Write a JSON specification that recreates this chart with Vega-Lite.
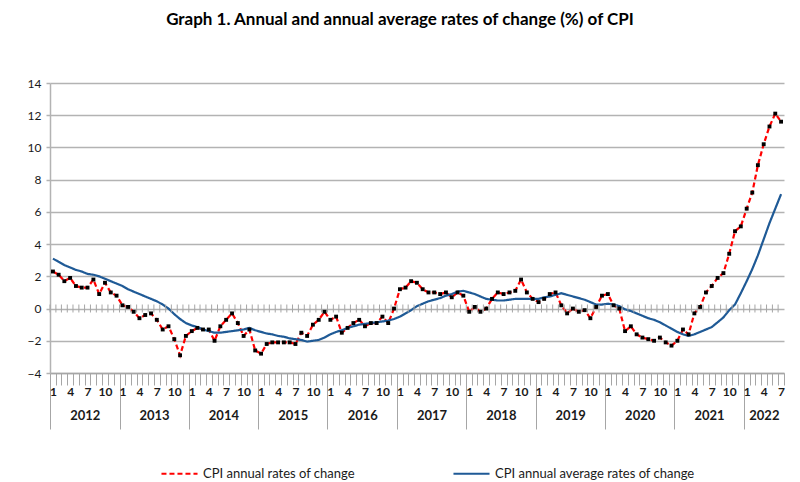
{
  "$schema": "https://vega.github.io/schema/vega-lite/v6.json",
  "width": 734,
  "height": 290,
  "autosize": {"type": "none"},
  "padding": {"left": 50, "top": 83, "right": 16, "bottom": 109},
  "background": "white",
  "config": {
    "font": "Lato",
    "view": {"stroke": null},
    "axis": {"labelFont": "Lato", "labelColor": "#1a1a1a"},
    "axisY": {
      "grid": true, "gridColor": "#b3b3b3", "gridWidth": 1.5,
      "domainColor": "#b3b3b3", "domainWidth": 1.5,
      "tickColor": "#b3b3b3", "tickSize": 4, "tickWidth": 1.5,
      "labelFontSize": 12, "labelPadding": 5
    }
  },
  "title": {
    "text": "Graph 1. Annual and annual average rates of change (%) of CPI",
    "font": "Lato",
    "fontSize": 17,
    "fontWeight": "bold",
    "color": "#000000",
    "offset": 48,
    "dx": -17
  },
  "datasets": {
    "cpi": [
      {"month": "2012-01", "annual": 2.3, "average": 3.1},
      {"month": "2012-02", "annual": 2.1, "average": 2.9},
      {"month": "2012-03", "annual": 1.7, "average": 2.7},
      {"month": "2012-04", "annual": 1.9, "average": 2.55},
      {"month": "2012-05", "annual": 1.4, "average": 2.4},
      {"month": "2012-06", "annual": 1.3, "average": 2.3},
      {"month": "2012-07", "annual": 1.3, "average": 2.15},
      {"month": "2012-08", "annual": 1.8, "average": 2.1},
      {"month": "2012-09", "annual": 0.9, "average": 2.0},
      {"month": "2012-10", "annual": 1.6, "average": 1.85},
      {"month": "2012-11", "annual": 1.0, "average": 1.7},
      {"month": "2012-12", "annual": 0.8, "average": 1.55},
      {"month": "2013-01", "annual": 0.2, "average": 1.4},
      {"month": "2013-02", "annual": 0.1, "average": 1.2},
      {"month": "2013-03", "annual": -0.2, "average": 1.05},
      {"month": "2013-04", "annual": -0.6, "average": 0.9},
      {"month": "2013-05", "annual": -0.4, "average": 0.75},
      {"month": "2013-06", "annual": -0.3, "average": 0.6},
      {"month": "2013-07", "annual": -0.7, "average": 0.45},
      {"month": "2013-08", "annual": -1.3, "average": 0.25},
      {"month": "2013-09", "annual": -1.1, "average": 0.0},
      {"month": "2013-10", "annual": -1.9, "average": -0.35},
      {"month": "2013-11", "annual": -2.9, "average": -0.65},
      {"month": "2013-12", "annual": -1.7, "average": -0.9},
      {"month": "2014-01", "annual": -1.4, "average": -1.05},
      {"month": "2014-02", "annual": -1.2, "average": -1.15},
      {"month": "2014-03", "annual": -1.3, "average": -1.3},
      {"month": "2014-04", "annual": -1.3, "average": -1.4},
      {"month": "2014-05", "annual": -2.0, "average": -1.5},
      {"month": "2014-06", "annual": -1.1, "average": -1.5},
      {"month": "2014-07", "annual": -0.7, "average": -1.45},
      {"month": "2014-08", "annual": -0.3, "average": -1.4},
      {"month": "2014-09", "annual": -0.9, "average": -1.35},
      {"month": "2014-10", "annual": -1.7, "average": -1.3},
      {"month": "2014-11", "annual": -1.3, "average": -1.2},
      {"month": "2014-12", "annual": -2.6, "average": -1.35},
      {"month": "2015-01", "annual": -2.8, "average": -1.45},
      {"month": "2015-02", "annual": -2.2, "average": -1.55},
      {"month": "2015-03", "annual": -2.1, "average": -1.6},
      {"month": "2015-04", "annual": -2.1, "average": -1.7},
      {"month": "2015-05", "annual": -2.1, "average": -1.75},
      {"month": "2015-06", "annual": -2.1, "average": -1.85},
      {"month": "2015-07", "annual": -2.2, "average": -1.9},
      {"month": "2015-08", "annual": -1.5, "average": -1.95},
      {"month": "2015-09", "annual": -1.7, "average": -2.05},
      {"month": "2015-10", "annual": -1.0, "average": -2.0},
      {"month": "2015-11", "annual": -0.7, "average": -1.95},
      {"month": "2015-12", "annual": -0.2, "average": -1.8},
      {"month": "2016-01", "annual": -0.7, "average": -1.6},
      {"month": "2016-02", "annual": -0.5, "average": -1.45},
      {"month": "2016-03", "annual": -1.5, "average": -1.35},
      {"month": "2016-04", "annual": -1.2, "average": -1.2},
      {"month": "2016-05", "annual": -0.9, "average": -1.1},
      {"month": "2016-06", "annual": -0.7, "average": -1.0},
      {"month": "2016-07", "annual": -1.1, "average": -0.95},
      {"month": "2016-08", "annual": -0.9, "average": -0.9},
      {"month": "2016-09", "annual": -0.9, "average": -0.85},
      {"month": "2016-10", "annual": -0.5, "average": -0.8},
      {"month": "2016-11", "annual": -0.9, "average": -0.75},
      {"month": "2016-12", "annual": 0.0, "average": -0.65},
      {"month": "2017-01", "annual": 1.2, "average": -0.5},
      {"month": "2017-02", "annual": 1.3, "average": -0.3},
      {"month": "2017-03", "annual": 1.7, "average": -0.1},
      {"month": "2017-04", "annual": 1.6, "average": 0.15},
      {"month": "2017-05", "annual": 1.2, "average": 0.3},
      {"month": "2017-06", "annual": 1.0, "average": 0.45},
      {"month": "2017-07", "annual": 1.0, "average": 0.55},
      {"month": "2017-08", "annual": 0.9, "average": 0.65},
      {"month": "2017-09", "annual": 1.0, "average": 0.8},
      {"month": "2017-10", "annual": 0.7, "average": 0.9},
      {"month": "2017-11", "annual": 1.0, "average": 1.05},
      {"month": "2017-12", "annual": 0.8, "average": 1.1},
      {"month": "2018-01", "annual": -0.2, "average": 1.0},
      {"month": "2018-02", "annual": 0.1, "average": 0.9},
      {"month": "2018-03", "annual": -0.2, "average": 0.75},
      {"month": "2018-04", "annual": 0.0, "average": 0.6},
      {"month": "2018-05", "annual": 0.6, "average": 0.55},
      {"month": "2018-06", "annual": 1.0, "average": 0.5},
      {"month": "2018-07", "annual": 0.9, "average": 0.5},
      {"month": "2018-08", "annual": 1.0, "average": 0.55},
      {"month": "2018-09", "annual": 1.1, "average": 0.6},
      {"month": "2018-10", "annual": 1.8, "average": 0.6},
      {"month": "2018-11", "annual": 1.0, "average": 0.6},
      {"month": "2018-12", "annual": 0.6, "average": 0.6},
      {"month": "2019-01", "annual": 0.4, "average": 0.6},
      {"month": "2019-02", "annual": 0.6, "average": 0.7},
      {"month": "2019-03", "annual": 0.9, "average": 0.75},
      {"month": "2019-04", "annual": 1.0, "average": 0.85},
      {"month": "2019-05", "annual": 0.2, "average": 0.95},
      {"month": "2019-06", "annual": -0.3, "average": 0.85},
      {"month": "2019-07", "annual": 0.0, "average": 0.75},
      {"month": "2019-08", "annual": -0.2, "average": 0.65},
      {"month": "2019-09", "annual": -0.1, "average": 0.55},
      {"month": "2019-10", "annual": -0.6, "average": 0.4},
      {"month": "2019-11", "annual": 0.1, "average": 0.25},
      {"month": "2019-12", "annual": 0.8, "average": 0.25},
      {"month": "2020-01", "annual": 0.9, "average": 0.3},
      {"month": "2020-02", "annual": 0.2, "average": 0.25},
      {"month": "2020-03", "annual": 0.0, "average": 0.15},
      {"month": "2020-04", "annual": -1.4, "average": -0.05},
      {"month": "2020-05", "annual": -1.1, "average": -0.15},
      {"month": "2020-06", "annual": -1.6, "average": -0.3},
      {"month": "2020-07", "annual": -1.8, "average": -0.45},
      {"month": "2020-08", "annual": -1.9, "average": -0.6},
      {"month": "2020-09", "annual": -2.0, "average": -0.7},
      {"month": "2020-10", "annual": -1.8, "average": -0.85},
      {"month": "2020-11", "annual": -2.1, "average": -1.05},
      {"month": "2020-12", "annual": -2.3, "average": -1.25},
      {"month": "2021-01", "annual": -2.0, "average": -1.45},
      {"month": "2021-02", "annual": -1.3, "average": -1.6},
      {"month": "2021-03", "annual": -1.6, "average": -1.7},
      {"month": "2021-04", "annual": -0.3, "average": -1.6},
      {"month": "2021-05", "annual": 0.1, "average": -1.45},
      {"month": "2021-06", "annual": 1.0, "average": -1.3},
      {"month": "2021-07", "annual": 1.4, "average": -1.15},
      {"month": "2021-08", "annual": 1.9, "average": -0.85},
      {"month": "2021-09", "annual": 2.2, "average": -0.55},
      {"month": "2021-10", "annual": 3.4, "average": -0.1},
      {"month": "2021-11", "annual": 4.8, "average": 0.25},
      {"month": "2021-12", "annual": 5.1, "average": 0.95},
      {"month": "2022-01", "annual": 6.2, "average": 1.7},
      {"month": "2022-02", "annual": 7.2, "average": 2.45},
      {"month": "2022-03", "annual": 8.9, "average": 3.3},
      {"month": "2022-04", "annual": 10.2, "average": 4.3},
      {"month": "2022-05", "annual": 11.3, "average": 5.3},
      {"month": "2022-06", "annual": 12.1, "average": 6.2},
      {"month": "2022-07", "annual": 11.6, "average": 7.1}
    ]
  },
  "data": {"name": "cpi"},
  "layer": [
    {
      "transform": [{"fold": ["annual", "average"], "as": ["series", "value"]}],
      "mark": {"type": "line", "strokeWidth": 2.2},
      "encoding": {
        "x": {
          "field": "month", "timeUnit": "utcyearmonth", "type": "temporal", "bandPosition": 0.5,
          "scale": {"type": "utc", "domain": [{"year": 2012, "month": 1, "date": 1, "utc": true}, {"year": 2022, "month": 8, "date": 1, "utc": true}]},
          "axis": {
            "orient": "bottom", "grid": false, "labels": false, "domain": false,
            "tickCount": {"interval": "year", "step": 1},
            "tickSize": 56, "tickColor": "#a6a6a6", "tickWidth": 1, "title": null
          }
        },
        "y": {
          "field": "value", "type": "quantitative",
          "scale": {"domain": [-4, 14]},
          "axis": {"tickCount": 9, "title": null}
        },
        "color": {
          "field": "series", "type": "nominal",
          "scale": {"domain": ["annual", "average"], "range": ["#ff0000", "#1f5a96"]},
          "legend": {
            "orient": "none", "legendX": 110, "legendY": 371, "direction": "horizontal",
            "title": null, "symbolType": "stroke", "symbolSize": 1300, "symbolStrokeWidth": 2,
            "labelFont": "Lato", "labelFontSize": 13, "labelColor": "#1a1a1a", "labelLimit": 300,
            "columnPadding": 94, "labelOffset": 4,
            "labelExpr": "datum.value == 'annual' ? 'CPI annual rates of change' : 'CPI annual average rates of change'"
          }
        },
        "strokeDash": {
          "field": "series", "type": "nominal",
          "scale": {"domain": ["annual", "average"], "range": [[5, 3], [1, 0]]},
          "legend": {
            "orient": "none", "legendX": 110, "legendY": 371, "direction": "horizontal",
            "title": null, "symbolType": "stroke", "symbolSize": 1300, "symbolStrokeWidth": 2,
            "labelFont": "Lato", "labelFontSize": 13, "labelColor": "#1a1a1a", "labelLimit": 300,
            "columnPadding": 94, "labelOffset": 4,
            "labelExpr": "datum.value == 'annual' ? 'CPI annual rates of change' : 'CPI annual average rates of change'"
          }
        }
      }
    },
    {
      "mark": {"type": "tick", "orient": "vertical", "color": "#a6a6a6", "size": 8, "thickness": 1, "opacity": 1},
      "encoding": {
        "x": {
          "field": "month", "timeUnit": "utcyearmonth", "type": "temporal", "bandPosition": 0,
          "axis": {
            "orient": "bottom", "grid": false, "title": null,
            "tickCount": {"interval": "month", "step": 1},
            "tickSize": 12, "tickColor": "#a6a6a6", "tickWidth": 1,
            "domainColor": "#a6a6a6", "domainWidth": 1.5,
            "labelExpr": "utcmonth(datum.value) % 3 == 0 ? '' + (utcmonth(datum.value) + 1) : ''",
            "labelOffset": 2.9, "labelPadding": 1, "labelFontSize": 12, "labelFontWeight": "bold",
            "labelOverlap": false, "labelFlush": false, "labelBound": false
          }
        },
        "y": {"datum": 0, "type": "quantitative"}
      }
    },
    {
      "mark": {"type": "square", "size": 15, "color": "#000000", "opacity": 1, "filled": true},
      "encoding": {
        "x": {
          "field": "month", "timeUnit": "utcyearmonth", "type": "temporal", "bandPosition": 0.5,
          "axis": {
            "orient": "bottom", "grid": false, "ticks": false, "tickSize": 0, "domain": false, "title": null,
            "values": [
              {"year": 2012, "month": 7, "date": 2, "utc": true},
              {"year": 2013, "month": 7, "date": 2, "utc": true},
              {"year": 2014, "month": 7, "date": 2, "utc": true},
              {"year": 2015, "month": 7, "date": 2, "utc": true},
              {"year": 2016, "month": 7, "date": 2, "utc": true},
              {"year": 2017, "month": 7, "date": 2, "utc": true},
              {"year": 2018, "month": 7, "date": 2, "utc": true},
              {"year": 2019, "month": 7, "date": 2, "utc": true},
              {"year": 2020, "month": 7, "date": 2, "utc": true},
              {"year": 2021, "month": 7, "date": 2, "utc": true},
              {"year": 2022, "month": 4, "date": 17, "utc": true}
            ],
            "format": "%Y", "labelPadding": 36, "labelFontSize": 13, "labelFontWeight": "bold",
            "labelOverlap": false, "labelFlush": false, "labelBound": false
          }
        },
        "y": {"field": "annual", "type": "quantitative"}
      }
    }
  ],
  "resolve": {"axis": {"x": "independent"}}
}
